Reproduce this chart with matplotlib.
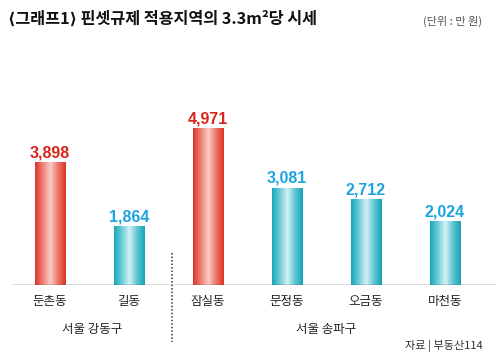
import matplotlib.pyplot as plt
import matplotlib.transforms as mtransforms
import numpy as np
from matplotlib.colors import LinearSegmentedColormap

plt.rcParams['font.family'] = ['Noto Sans CJK KR', 'DejaVu Sans']

districts = ['둔촌동', '길동', '잠실동', '문정동', '오금동', '마천동']
prices = [3898, 1864, 4971, 3081, 2712, 2024]
groups = ['서울 강동구', '서울 송파구']
group_sizes = [2, 4]

# 각 구에서 가장 비싼 동은 빨간색
red_bar = LinearSegmentedColormap.from_list(
    'red_bar', ['#dc3328', '#ee7f73', '#f9cdc6', '#ec7468', '#db3226'])
teal_bar = LinearSegmentedColormap.from_list(
    'teal_bar', ['#14a7b9', '#6ccbd8', '#d2f1f5', '#5fc4d3', '#12a3b5'])
red_text = '#d9261c'
blue_text = '#1ea4e0'

fig = plt.figure(figsize=(5, 3.6), dpi=100)
ax = fig.add_axes([0, 75 / 360, 1, 185 / 360])
ax.axis('off')

x = np.arange(len(districts))
highlight = []
start = 0
for size in group_sizes:
    part = prices[start:start + size]
    top = start + part.index(max(part))
    highlight += [i == top for i in range(start, start + size)]
    start += size

grad = np.linspace(0, 1, 256).reshape(1, -1)
bars = ax.bar(x, prices, width=0.39, facecolor='none', edgecolor='none')
for bar, val, hot in zip(bars, prices, highlight):
    x0, w, h = bar.get_x(), bar.get_width(), bar.get_height()
    im = ax.imshow(grad, cmap=red_bar if hot else teal_bar, aspect='auto',
                   extent=[x0, x0 + w, 0, h], zorder=2)
    im.set_clip_path(bar)
    ax.text(x0 + w / 2, h + 60, f'{val:,}', ha='center', va='bottom',
            fontsize=11.5, fontweight='bold', family=['Liberation Sans', 'DejaVu Sans'],
            color=red_text if hot else blue_text)
ax.set_xlim(-50 / 79, 450 / 79)
ax.set_ylim(0, 5858)

ax.axhline(0, xmin=0.024, xmax=0.99, color='#555555', lw=1, zorder=3)

for xi, name in zip(x, districts):
    ax.text(xi, -330, name, ha='center', va='top', fontsize=9, color='#222222')

# 구 이름과 구분선
blend = mtransforms.blended_transform_factory(ax.transData, fig.transFigure)
start = 0
for i, (g, size) in enumerate(zip(groups, group_sizes)):
    centre = (x[start] + x[start + size - 1]) / 2
    if i == 0:
        centre += 0.03
    ax.text(centre, 1 - 330 / 360, g, transform=blend, ha='center', va='center',
            fontsize=9, color='#222222')
    if start + size < len(x):
        xs = start + size - 0.45
        ax.plot([xs, xs], [1 - 253 / 360, 1 - 342 / 360], transform=blend,
                color='#333333', lw=1.1, ls=(0, (1, 1.3)), clip_on=False)
    start += size

fig.text(0.016, 1 - 19 / 360, '⟨그래프1⟩ 핀셋규제 적용지역의 3.3m²당 시세',
         ha='left', va='center', fontsize=11.7, fontweight='bold', color='#111111')
fig.text(0.965, 1 - 21 / 360, '(단위 : 만 원)', ha='right', va='center',
         fontsize=8, color='#555555')
fig.text(0.965, 1 - 346 / 360, '자료 | 부동산114', ha='right', va='center',
         fontsize=8, color='#333333')

fig.savefig('out.png', dpi=100)
